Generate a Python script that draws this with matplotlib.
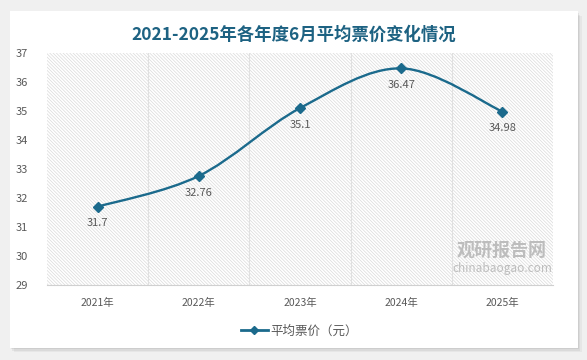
import numpy as np
import matplotlib.pyplot as plt
from matplotlib.path import Path
from matplotlib.patches import PathPatch, Rectangle
from matplotlib.lines import Line2D

plt.rcParams['font.family'] = ['Noto Sans CJK SC', 'DejaVu Sans']
plt.rcParams['hatch.linewidth'] = 0.5

years = ['2021年', '2022年', '2023年', '2024年', '2025年']
price = [31.7, 32.76, 35.1, 36.47, 34.98]
labels = ['31.7', '32.76', '35.1', '36.47', '34.98']
yticks = [29, 30, 31, 32, 33, 34, 35, 36, 37]

line_color = '#1b6a8c'
gray = '#595959'

fig = plt.figure(figsize=(5.87, 3.6), dpi=100)
fig.patch.set_facecolor('#f0f0f0')

# white card with soft shadow
for i, a in enumerate([0.04, 0.05, 0.06]):
    fig.patches.append(Rectangle((10 / 587 + (3 - i) * 0.002, 12 / 360 - (3 - i) * 0.004),
                                 568 / 587, 336 / 360, transform=fig.transFigure,
                                 facecolor='black', alpha=a, lw=0, zorder=-3))
fig.patches.append(Rectangle((10 / 587, 12 / 360), 568 / 587, 337 / 360,
                             transform=fig.transFigure, facecolor='white', lw=0, zorder=-2))

ax = fig.add_axes([47 / 587, 75 / 360, 506 / 587, 232 / 360])
ax.set_zorder(2)
ax.set_facecolor('none')
ax.add_patch(Rectangle((0, 0), 1, 1, transform=ax.transAxes, facecolor='white',
                       edgecolor='#dadada', hatch='\\' * 10, lw=0, zorder=0))

x = np.arange(len(price))
y = np.array(price)

# smooth curve (Catmull-Rom style bezier through the data points)
xp = np.concatenate([[x[0]], x, [x[-1]]])
yp = np.concatenate([[y[0]], y, [y[-1]]])
verts = [(x[0], y[0])]
codes = [Path.MOVETO]
for i in range(len(x) - 1):
    c1 = (x[i] + (xp[i + 2] - xp[i]) / 6, y[i] + (yp[i + 2] - yp[i]) / 6)
    c2 = (x[i + 1] - (xp[i + 3] - xp[i + 1]) / 6, y[i + 1] - (yp[i + 3] - yp[i + 1]) / 6)
    verts += [c1, c2, (x[i + 1], y[i + 1])]
    codes += [Path.CURVE4] * 3
ax.add_patch(PathPatch(Path(verts, codes), facecolor='none', edgecolor=line_color, lw=1.7, zorder=3))
ax.plot(x, y, ls='none', marker='D', ms=5.5, color=line_color, zorder=4)

for xi, yi, t in zip(x, y, labels):
    ax.annotate(t, (xi, yi), xytext=(0, -12), textcoords='offset points',
                ha='center', va='center', fontsize=8, color=gray)

ax.set_xlim(-0.5, len(price) - 0.5)
ax.set_ylim(29, 37)
ax.set_yticks(yticks)
ax.set_yticklabels([str(v) for v in yticks], fontsize=8, color=gray)
ax.set_xticks(x)
ax.set_xticklabels(years, fontsize=7.5, color=gray)
for b in np.arange(0.5, len(price) - 0.5, 1):
    ax.axvline(b, color='#e0e0e0', lw=0.8, zorder=1)
ax.tick_params(length=0, pad=9)
ax.tick_params(axis='y', pad=14)
for s in ['top', 'right', 'left']:
    ax.spines[s].set_visible(False)
ax.spines['bottom'].set_color('#d0d0d0')

fig.text(0.5, 1 - 35 / 360, '2021-2025年各年度6月平均票价变化情况', ha='center', va='center',
         fontsize=12.5, fontweight='bold', color='#1d6282')

# watermark
fig.text(0.855, 0.305, '观研报告网', ha='center', va='center', fontsize=13,
         fontweight='bold', color='#bdbdbd', zorder=5)
fig.text(0.855, 0.255, 'chinabaogao.com', ha='center', va='center', fontsize=8.5,
         color='#bdbdbd', zorder=5)

handle = Line2D([], [], color=line_color, lw=2, marker='D', ms=4)
fig.legend([handle], ['平均票价（元）'], loc='center', bbox_to_anchor=(0.51, 1 - 331 / 360),
           frameon=False, fontsize=9, handlelength=2.2, handletextpad=0.2,
           labelcolor=gray)

fig.savefig('out.png', dpi=100, facecolor=fig.get_facecolor())
